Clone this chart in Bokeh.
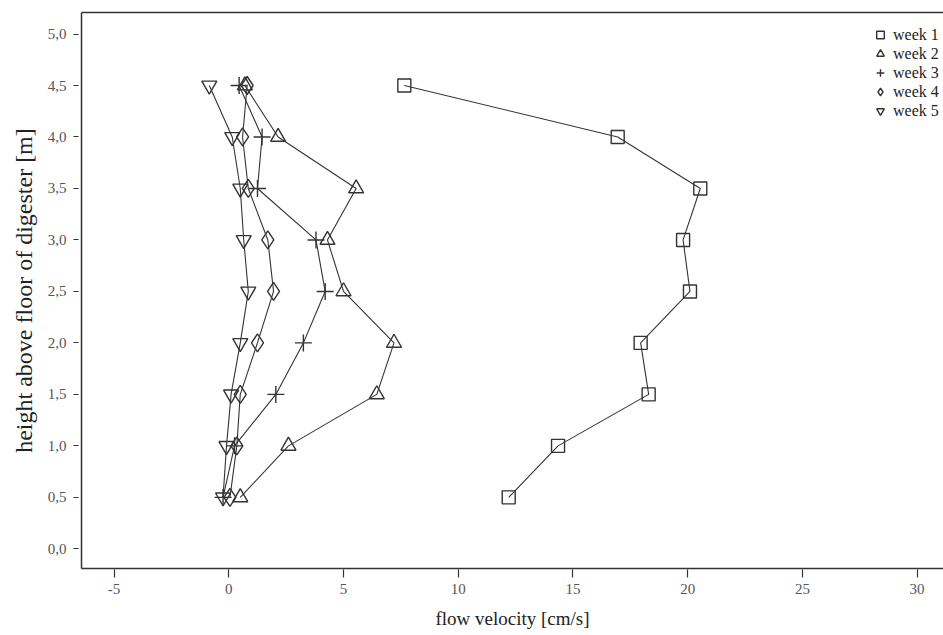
from bokeh.plotting import figure
from bokeh.models import (Range1d, FixedTicker, LinearAxis, Legend, LegendItem,
                          ColumnDataSource)
from bokeh.embed import file_html
from bokeh.resources import INLINE

# ---- data ----
heights = [4.5, 4.0, 3.5, 3.0, 2.5, 2.0, 1.5, 1.0, 0.5]
week1 = [7.65, 16.95, 20.55, 19.8, 20.1, 17.95, 18.3, 14.35, 12.2]
week2 = [0.7, 2.15, 5.55, 4.3, 5.0, 7.2, 6.45, 2.6, 0.5]
week3 = [0.45, 1.45, 1.25, 3.8, 4.2, 3.25, 2.05, 0.25, -0.25]
week4 = [0.8, 0.6, 0.85, 1.7, 1.95, 1.25, 0.5, 0.35, 0.05]
week5 = [-0.85, 0.15, 0.5, 0.65, 0.85, 0.5, 0.1, -0.1, -0.25]
series_names = ["week 1", "week 2", "week 3", "week 4", "week 5"]
series_markers = ["square", "triangle", "cross", "diamond", "inverted_triangle"]

x_tick_values = [-5, 0, 5, 10, 15, 20, 25, 30]
x_tick_labels = ["-5", "0", "5", "10", "15", "20", "25", "30"]
y_tick_values = [0.0, 0.5, 1.0, 1.5, 2.0, 2.5, 3.0, 3.5, 4.0, 4.5, 5.0]
y_tick_labels = ["0,0", "0,5", "1,0", "1,5", "2,0", "2,5", "3,0", "3,5", "4,0", "4,5", "5,0"]

FONT = "Liberation Serif"
INK = "#333333"

p = figure(width=943, height=635, output_backend="svg", toolbar_location=None,
           x_range=Range1d(-6.42, 31.15), y_range=Range1d(-0.191, 5.209),
           min_border_left=81, min_border_right=0, min_border_top=12, min_border_bottom=67)
p.grid.visible = False
p.outline_line_color = None
p.background_fill_color = "white"
p.border_fill_color = "white"

sizes = {"square": 13, "triangle": 15, "cross": 17, "diamond": 18, "inverted_triangle": 15}
items = []
for name, vals, marker in zip(series_names, [week1, week2, week3, week4, week5], series_markers):
    src = ColumnDataSource(dict(x=vals, y=heights))
    p.line("x", "y", source=src, line_color=INK, line_width=1.1)
    r = p.scatter("x", "y", source=src, marker=marker, size=sizes[marker],
                  fill_color=None, line_color=INK, line_width=1.4)
    items.append(LegendItem(label=name, renderers=[r]))

# axes styling
xa = p.xaxis[0]
ya = p.yaxis[0]
xa.ticker = FixedTicker(ticks=x_tick_values)
xa.major_label_overrides = {v: l for v, l in zip(x_tick_values, x_tick_labels)}
ya.ticker = FixedTicker(ticks=y_tick_values)
ya.major_label_overrides = {v: l for v, l in zip(y_tick_values, y_tick_labels)}

for ax in (xa, ya):
    ax.axis_line_color = INK
    ax.axis_line_width = 1.5
    ax.major_tick_line_color = INK
    ax.major_tick_line_width = 1.2
    ax.minor_tick_line_color = None
    ax.major_label_text_font = FONT
    ax.major_label_text_font_size = "15px"
    ax.major_label_text_color = "#555555"
    ax.axis_label_text_font = FONT
    ax.axis_label_text_font_style = "normal"
    ax.axis_label_text_color = "#222222"

xa.major_tick_in = -1
xa.major_tick_out = 9
xa.major_label_standoff = 6
xa.axis_label = "flow velocity [cm/s]"
xa.axis_label_text_font_size = "19px"
xa.axis_label_standoff = 11

ya.major_tick_in = -3
ya.major_tick_out = 8
ya.major_label_standoff = 7
ya.axis_label = "height above floor of digester [m]"
ya.axis_label_text_font_size = "24px"
ya.axis_label_standoff = 8

top = LinearAxis(ticker=FixedTicker(ticks=[]), axis_line_color=INK, axis_line_width=1.5,
                 major_tick_line_color=None, minor_tick_line_color=None)
p.add_layout(top, "above")

legend = Legend(items=items, location=(788, 448), orientation="vertical",
                border_line_color=None, background_fill_alpha=0,
                glyph_width=22, glyph_height=19, label_height=19, spacing=0,
                padding=0, margin=0, label_standoff=2,
                label_text_font=FONT, label_text_font_size="16px",
                label_text_color="#222222")
p.add_layout(legend)

open("out.html", "w").write(file_html(p, INLINE))
